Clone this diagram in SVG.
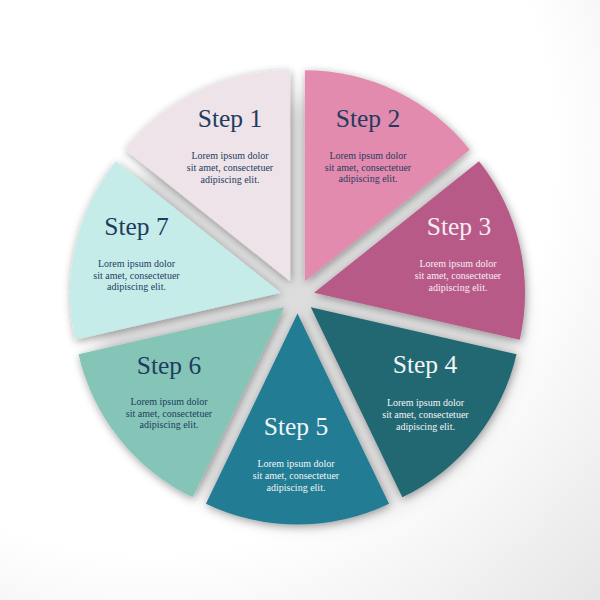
<svg xmlns="http://www.w3.org/2000/svg" width="600" height="600" viewBox="0 0 600 600">
  <defs>
    <radialGradient id="bg" cx="150" cy="150" r="650" gradientUnits="userSpaceOnUse">
      <stop offset="0" stop-color="#ffffff"/>
      <stop offset="0.62" stop-color="#ffffff"/>
      <stop offset="1" stop-color="#e4e4e4"/>
    </radialGradient>
    <filter id="bigShadow" x="-30%" y="-30%" width="160%" height="160%">
      <feGaussianBlur stdDeviation="12"/>
    </filter>
    <filter id="ds" x="-20%" y="-20%" width="140%" height="140%">
      <feDropShadow dx="1" dy="2" stdDeviation="4" flood-color="#000000" flood-opacity="0.36"/>
    </filter>
    <style>
      .title { font-family: "Liberation Serif", "Times New Roman", serif; font-size: 25.5px; text-anchor: middle; }
      .body { font-family: "Liberation Serif", "Times New Roman", serif; font-size: 10px; text-anchor: middle; }
      .dark { fill: #1f3c5e; }
      .light { fill: #f6eef3; }
      .white { fill: #f2f6f7; }
      .wedge { filter: url(#ds); }
    </style>
  </defs>

  <rect x="0" y="0" width="600" height="600" fill="url(#bg)"/>
  <circle cx="308" cy="310" r="212" fill="#000000" opacity="0.13" filter="url(#bigShadow)"/>

  <g id="step1">
    <path class="wedge" d="M290.12,281.28 L125.16,149.72 A211,211 0 0 1 290.12,70.28 Z" fill="#ede3e8"/>
    <text class="title dark" x="230" y="127">Step 1</text>
    <text class="body dark" x="230" y="159">Lorem ipsum dolor</text>
    <text class="body dark" x="230" y="171">sit amet, consectetuer</text>
    <text class="body dark" x="230" y="182.5">adipiscing elit.</text>
  </g>

  <g id="step2">
    <path class="wedge" d="M304.88,281.28 L304.88,70.28 A211,211 0 0 1 469.84,149.72 Z" fill="#e38bae"/>
    <text class="title dark" x="368" y="127">Step 2</text>
    <text class="body dark" x="368" y="158.5">Lorem ipsum dolor</text>
    <text class="body dark" x="368" y="170.5">sit amet, consectetuer</text>
    <text class="body dark" x="368" y="182">adipiscing elit.</text>
  </g>

  <g id="step3">
    <path class="wedge" d="M314.07,292.82 L479.03,161.26 A211,211 0 0 1 519.77,339.77 Z" fill="#b85a87"/>
    <text class="title light" x="459" y="235">Step 3</text>
    <text class="body light" x="458" y="267">Lorem ipsum dolor</text>
    <text class="body light" x="458" y="279">sit amet, consectetuer</text>
    <text class="body light" x="458" y="290.5">adipiscing elit.</text>
  </g>

  <g id="step4">
    <path class="wedge" d="M310.79,307.2 L516.49,354.15 A211,211 0 0 1 402.34,497.31 Z" fill="#236872"/>
    <text class="title white" x="425" y="373">Step 4</text>
    <text class="body white" x="425.5" y="406">Lorem ipsum dolor</text>
    <text class="body white" x="425.5" y="418">sit amet, consectetuer</text>
    <text class="body white" x="425.5" y="429.5">adipiscing elit.</text>
  </g>

  <g id="step5">
    <path class="wedge" d="M297.5,313.6 L389.05,503.71 A211,211 0 0 1 205.95,503.71 Z" fill="#247c94"/>
    <text class="title white" x="296" y="435">Step 5</text>
    <text class="body white" x="296" y="467">Lorem ipsum dolor</text>
    <text class="body white" x="296" y="479">sit amet, consectetuer</text>
    <text class="body white" x="296" y="490.5">adipiscing elit.</text>
  </g>

  <g id="step6">
    <path class="wedge" d="M284.21,307.2 L192.66,497.31 A211,211 0 0 1 78.51,354.15 Z" fill="#84c5b7"/>
    <text class="title dark" x="169" y="374">Step 6</text>
    <text class="body dark" x="169" y="404.5">Lorem ipsum dolor</text>
    <text class="body dark" x="169" y="416.5">sit amet, consectetuer</text>
    <text class="body dark" x="169" y="428">adipiscing elit.</text>
  </g>

  <g id="step7">
    <path class="wedge" d="M280.93,292.82 L75.23,339.77 A211,211 0 0 1 115.97,161.26 Z" fill="#c6ecea"/>
    <text class="title dark" x="136.5" y="235">Step 7</text>
    <text class="body dark" x="136.5" y="267">Lorem ipsum dolor</text>
    <text class="body dark" x="136.5" y="278.5">sit amet, consectetuer</text>
    <text class="body dark" x="136.5" y="290">adipiscing elit.</text>
  </g>

  <g id="connectors"/>
</svg>
